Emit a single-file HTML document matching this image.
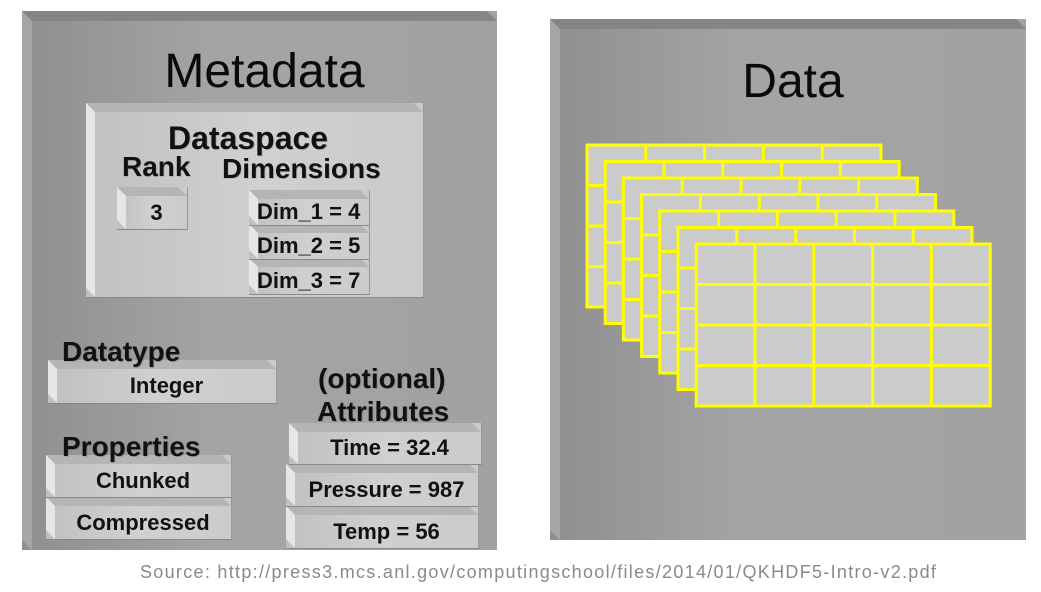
<!DOCTYPE html>
<html><head><meta charset="utf-8"><style>
body{margin:0;width:1041px;height:592px;background:#fff;position:relative;overflow:hidden;font-family:"Liberation Sans",Arial,sans-serif}
.a{position:absolute}
.panel{position:absolute;background:linear-gradient(90deg,#8f8f8f,#a4a4a4 40%,#a2a2a2)}
.box{position:absolute;background:linear-gradient(90deg,#c0c0c0,#d0d0d0 50%,#cbcbcb);border-right:1px solid #999;border-bottom:1px solid #888;box-sizing:border-box}
.box::before{content:"";position:absolute;left:0;top:0;right:0;height:9px;background:#b5b5b5;clip-path:polygon(0 0,calc(100% - 9px) 0,100% 100%,9px 100%)}
.box::after{content:"";position:absolute;left:0;top:0;bottom:0;width:9px;background:#e6e6e6;clip-path:polygon(0 0,100% 9px,100% 100%,0 calc(100% - 9px))}
.t{position:absolute;font-weight:bold;color:#111;white-space:nowrap;text-shadow:1px 1px 0 rgba(0,0,0,.12)}
.bt{position:absolute;left:9px;right:0;top:9px;bottom:0;display:flex;align-items:center;justify-content:center;font-weight:bold;font-size:22px;color:#111;z-index:2}
</style></head><body>
<div class="panel" style="left:22px;top:11px;width:475px;height:539px">
<div class="a" style="left:0;top:0;width:475px;height:10px;background:#858585;clip-path:polygon(0 0,calc(100% - 10px) 0,100% 100%,10px 100%)"></div>
<div class="a" style="left:0;top:0;width:10px;height:539px;background:#a6a6a6;clip-path:polygon(0 0,100% 10px,100% 100%,0 calc(100% - 10px))"></div>
</div>
<div class="panel" style="left:550px;top:19px;width:476px;height:521px">
<div class="a" style="left:0;top:0;width:476px;height:10px;background:#858585;clip-path:polygon(0 0,calc(100% - 10px) 0,100% 100%,10px 100%)"></div>
<div class="a" style="left:0;top:0;width:10px;height:521px;background:#a6a6a6;clip-path:polygon(0 0,100% 10px,100% 100%,0 calc(100% - 10px))"></div>
</div>
<div class="a" style="left:22px;width:485px;top:44px;text-align:center;font-size:48px;color:#0a0a0a">Metadata</div>
<div class="a" style="left:560px;width:466px;top:54px;text-align:center;font-size:48px;color:#0a0a0a">Data</div>

<div class="box" style="left:86px;top:103px;width:338px;height:195px"></div>
<div class="t" style="left:168px;top:120px;font-size:32px">Dataspace</div>
<div class="t" style="left:122px;top:151px;font-size:28px">Rank</div>
<div class="t" style="left:222px;top:153px;font-size:28px">Dimensions</div>
<div class="box" style="left:117px;top:187px;width:71px;height:43px"><div class="bt">3</div></div>
<div class="box" style="left:249px;top:258px;width:121px;height:37px"><div class="bt" style="left:0;justify-content:flex-start;padding-left:8px">Dim_3 = 7</div></div>
<div class="box" style="left:249px;top:224px;width:121px;height:36px"><div class="bt" style="left:0;justify-content:flex-start;padding-left:8px">Dim_2 = 5</div></div>
<div class="box" style="left:249px;top:190px;width:121px;height:36px"><div class="bt" style="left:0;justify-content:flex-start;padding-left:8px">Dim_1 = 4</div></div>

<div class="box" style="left:48px;top:360px;width:229px;height:44px"><div class="bt">Integer</div></div>
<div class="t" style="left:62px;top:336px;font-size:28px">Datatype</div>
<div class="box" style="left:46px;top:497px;width:186px;height:43px"><div class="bt">Compressed</div></div>
<div class="box" style="left:46px;top:455px;width:186px;height:43px"><div class="bt">Chunked</div></div>
<div class="t" style="left:62px;top:431px;font-size:28px">Properties</div>
<div class="t" style="left:318px;top:363px;font-size:28px">(optional)</div>
<div class="box" style="left:286px;top:506px;width:193px;height:43px"><div class="bt">Temp = 56</div></div>
<div class="box" style="left:286px;top:464px;width:193px;height:43px"><div class="bt">Pressure = 987</div></div>
<div class="box" style="left:289px;top:423px;width:193px;height:42px"><div class="bt">Time = 32.4</div></div>
<div class="t" style="left:317px;top:396px;font-size:28px">Attributes</div>

<svg id="grids" class="a" style="left:0;top:0" width="1041" height="592"></svg>
<div class="a" style="left:140px;top:562px;font-size:18px;letter-spacing:1.3px;color:#8a8a8a">Source: http://press3.mcs.anl.gov/computingschool/files/2014/01/QKHDF5-Intro-v2.pdf</div>
<script>
const layers=[0,1,2,3,4,5,6];
const cols=5, rows=4;
const svg=document.getElementById('grids');
const NS='http://www.w3.org/2000/svg';
const x0=587,y0=145,dx=18.2,dy=16.5,w=294,h=162;
layers.forEach(i=>{
  const g=document.createElementNS(NS,'g');
  
  
  const x=x0+i*dx,y=y0+i*dy;
  const r=document.createElementNS(NS,'rect');
  r.setAttribute('x',x);r.setAttribute('y',y);r.setAttribute('width',w);r.setAttribute('height',h);
  r.setAttribute('fill','#cbcbcb');r.setAttribute('stroke','#ffff00');r.setAttribute('stroke-width','3');
  g.appendChild(r);
  for(let c=1;c<cols;c++){const l=document.createElementNS(NS,'line');const xx=x+c*w/cols;
    l.setAttribute('x1',xx);l.setAttribute('x2',xx);l.setAttribute('y1',y);l.setAttribute('y2',y+h);
    l.setAttribute('stroke','#ffff00');l.setAttribute('stroke-width','3');g.appendChild(l);}
  for(let k=1;k<rows;k++){const l=document.createElementNS(NS,'line');const yy=y+k*h/rows;
    l.setAttribute('x1',x);l.setAttribute('x2',x+w);l.setAttribute('y1',yy);l.setAttribute('y2',yy);
    l.setAttribute('stroke','#ffff00');l.setAttribute('stroke-width','3');g.appendChild(l);}
  svg.appendChild(g);
});
</script>
</body></html>
